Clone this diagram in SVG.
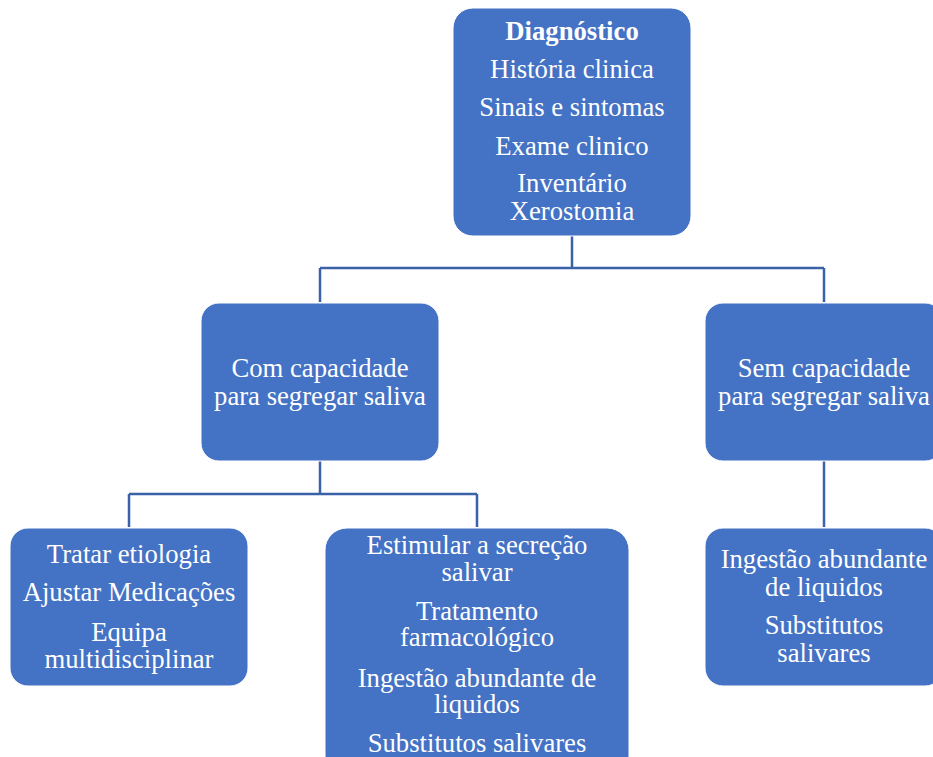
<svg xmlns="http://www.w3.org/2000/svg" width="933" height="757" viewBox="0 0 933 757">
<style>
.box{fill:#4472C4;stroke:#ffffff;stroke-width:1}
.t{font-family:"Liberation Serif","Times New Roman",serif;font-size:26.7px;fill:#ffffff;text-anchor:middle}
.b{font-weight:bold}
.c{fill:none;stroke:#3A62A8;stroke-width:2.5}
</style>
<rect width="933" height="757" fill="#ffffff"/>
<g id="connectors">
<path class="c" d="M572 236V268M320 268H824M320 268V302M824 268V302"/>
<path class="c" d="M320 461V494M129 494H477M129 494V527M477 494V527"/>
<path class="c" d="M824 461V527"/>
</g>
<g id="diagnostico">
<rect class="box" x="453" y="8" width="238" height="228" rx="20"/>
<text class="t b" x="572" y="40">Diagnóstico</text>
<text class="t" x="572" y="78">História clinica</text>
<text class="t" x="572" y="116">Sinais e sintomas</text>
<text class="t" x="572" y="155">Exame clinico</text>
<text class="t" x="572" y="192">Inventário</text>
<text class="t" x="572" y="220">Xerostomia</text>
</g>
<g id="com">
<rect class="box" x="201" y="303" width="238" height="158" rx="18"/>
<text class="t" x="320" y="377">Com capacidade</text>
<text class="t" x="320" y="405">para segregar saliva</text>
</g>
<g id="sem">
<rect class="box" x="705" y="303" width="238" height="158" rx="18"/>
<text class="t" x="824" y="377">Sem capacidade</text>
<text class="t" x="824" y="405">para segregar saliva</text>
</g>
<g id="tratar">
<rect class="box" x="10" y="528" width="238" height="158" rx="18"/>
<text class="t" x="129" y="563">Tratar etiologia</text>
<text class="t" x="129" y="601">Ajustar Medicações</text>
<text class="t" x="129" y="641">Equipa</text>
<text class="t" x="129" y="668">multidisciplinar</text>
</g>
<g id="estimular">
<rect class="box" x="325" y="528" width="304" height="250" rx="22"/>
<text class="t" x="477" y="554">Estimular a secreção</text>
<text class="t" x="477" y="581">salivar</text>
<text class="t" x="477" y="620">Tratamento</text>
<text class="t" x="477" y="646">farmacológico</text>
<text class="t" x="477" y="687">Ingestão abundante de</text>
<text class="t" x="477" y="713">liquidos</text>
<text class="t" x="477" y="752">Substitutos salivares</text>
</g>
<g id="ingestao">
<rect class="box" x="705" y="528" width="238" height="158" rx="18"/>
<text class="t" x="824" y="568">Ingestão abundante</text>
<text class="t" x="824" y="596">de liquidos</text>
<text class="t" x="824" y="634">Substitutos</text>
<text class="t" x="824" y="662">salivares</text>
</g>
</svg>
